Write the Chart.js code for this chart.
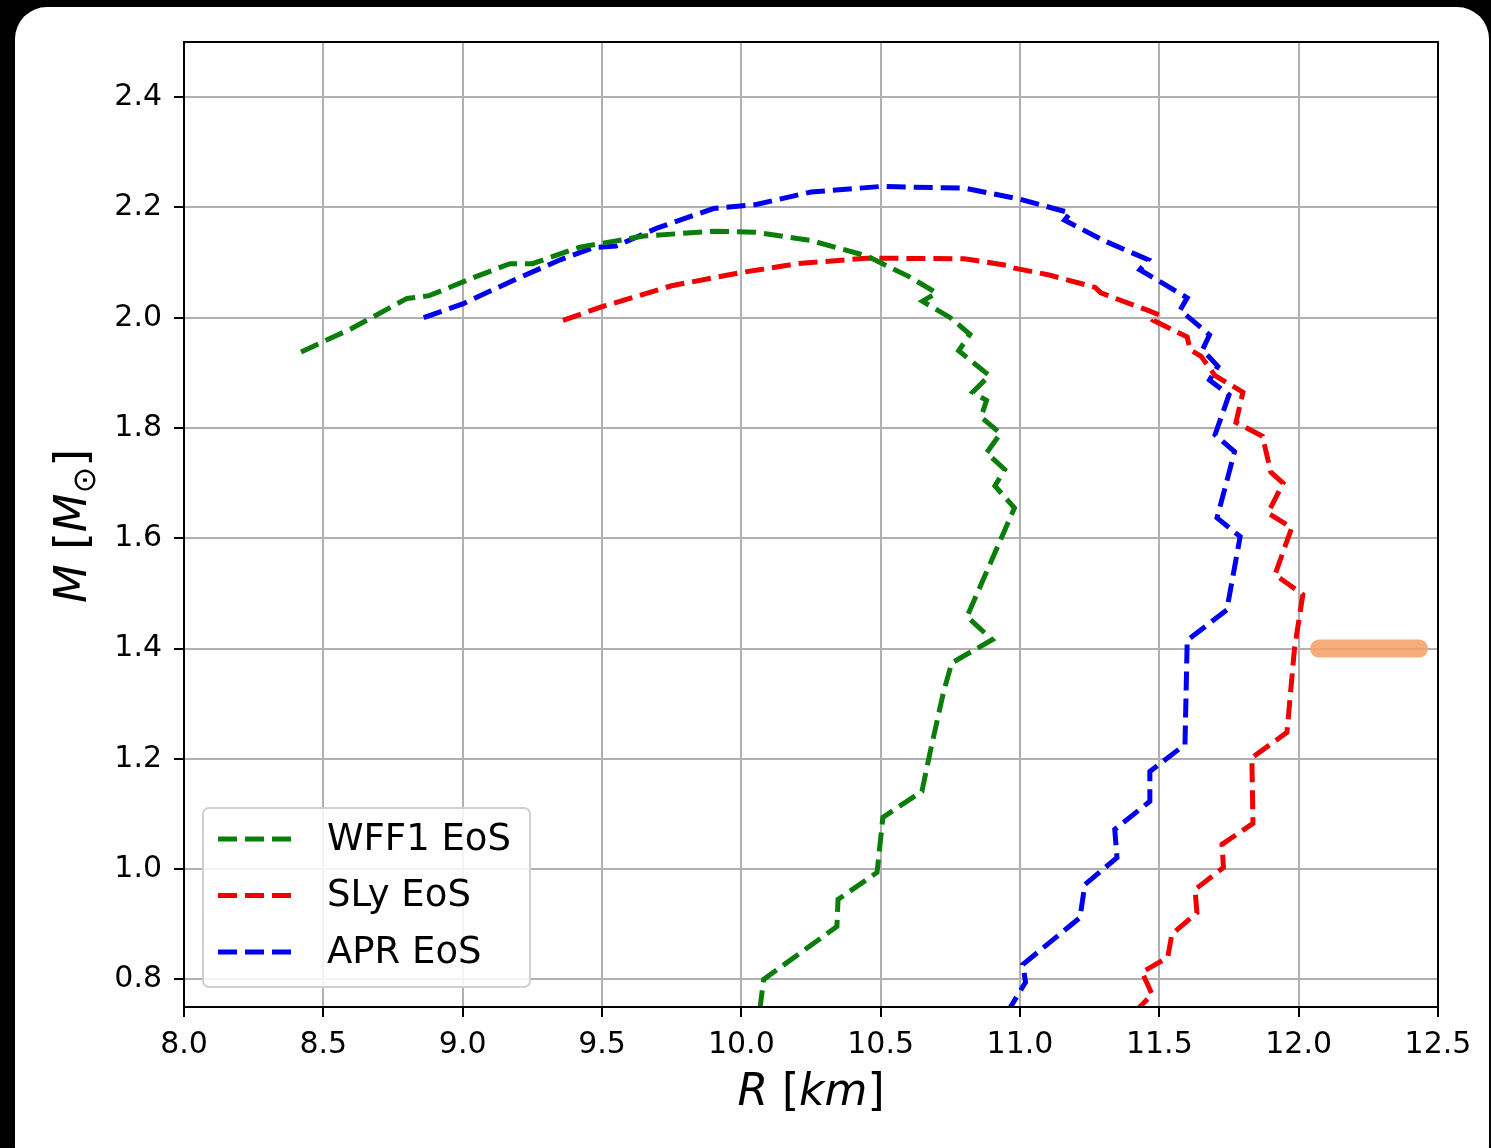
<!DOCTYPE html>
<html>
<head>
<meta charset="utf-8">
<script src="https://cdn.jsdelivr.net/npm/chart.js@4.4.1/dist/chart.umd.min.js"></script>
<style>
  html, body { margin: 0; padding: 0; background: #000; }
  body { width: 1491px; height: 1148px; position: relative; overflow: hidden; }
  #card { position: absolute; left: 15px; top: 7px; width: 1474px; height: 1170px; background: #fff; border-radius: 32px; }
  #chart { position: absolute; left: 0; top: 0; }
</style>
</head>
<body>
<div id="card"></div>
<canvas id="chart" width="1491" height="1148"></canvas>
<script>
// Mass-radius curves (R in km, M in solar masses)
const wffR = [8.42, 8.60, 8.80, 8.88, 9.05, 9.17, 9.25, 9.42, 9.65, 9.90, 10.05, 10.25, 10.45, 10.60, 10.70, 10.65, 10.75, 10.82, 10.78, 10.89, 10.83, 10.88, 10.86, 10.93, 10.88, 10.945, 10.91, 10.98, 10.81, 10.90, 10.755, 10.725, 10.677, 10.648, 10.508, 10.487, 10.347, 10.343, 10.08, 10.065];
const wffM = [1.938, 1.98, 2.035, 2.04, 2.075, 2.098, 2.098, 2.128, 2.148, 2.157, 2.155, 2.14, 2.112, 2.075, 2.045, 2.03, 2.0, 1.97, 1.94, 1.895, 1.865, 1.85, 1.82, 1.79, 1.755, 1.725, 1.695, 1.655, 1.458, 1.416, 1.374, 1.32, 1.211, 1.141, 1.094, 0.994, 0.945, 0.896, 0.80, 0.74];

const slyR = [9.36, 9.50, 9.75, 10.0, 10.2, 10.45, 10.8, 10.95, 10.98, 11.1, 11.27, 11.29, 11.45, 11.50, 11.48, 11.60, 11.61, 11.65, 11.70, 11.80, 11.775, 11.87, 11.90, 11.944, 11.89, 11.975, 11.915, 12.015, 11.985, 11.958, 11.832, 11.836, 11.725, 11.73, 11.628, 11.635, 11.545, 11.53, 11.438, 11.474, 11.42];
const slyM = [1.995, 2.02, 2.058, 2.082, 2.098, 2.108, 2.107, 2.095, 2.09, 2.078, 2.055, 2.045, 2.015, 2.005, 1.995, 1.965, 1.942, 1.93, 1.895, 1.865, 1.81, 1.785, 1.72, 1.70, 1.646, 1.619, 1.534, 1.498, 1.40, 1.248, 1.202, 1.083, 1.045, 1.003, 0.963, 0.921, 0.882, 0.84, 0.813, 0.773, 0.745];

const aprR = [8.86, 9.0, 9.2, 9.35, 9.47, 9.55, 9.7, 9.9, 10.05, 10.25, 10.5, 10.8, 11.0, 11.18, 11.16, 11.3, 11.46, 11.43, 11.6, 11.575, 11.68, 11.655, 11.71, 11.68, 11.75, 11.70, 11.77, 11.707, 11.79, 11.742, 11.6, 11.592, 11.466, 11.466, 11.34, 11.348, 11.233, 11.215, 11.01, 11.02, 10.96];
const aprM = [2.0, 2.025, 2.072, 2.105, 2.127, 2.13, 2.163, 2.198, 2.205, 2.228, 2.238, 2.235, 2.215, 2.19, 2.177, 2.14, 2.105, 2.087, 2.036, 2.014, 1.969, 1.942, 1.912, 1.887, 1.86, 1.788, 1.757, 1.637, 1.603, 1.47, 1.415, 1.226, 1.177, 1.123, 1.072, 1.021, 0.972, 0.912, 0.827, 0.795, 0.745];

// orange marker at 1.4 Msun, beyond the curves
const markR = [12.073, 12.432];
const markM = [1.4, 1.4];

const xTicks = [8.0, 8.5, 9.0, 9.5, 10.0, 10.5, 11.0, 11.5, 12.0, 12.5];
const yTicks = [0.8, 1.0, 1.2, 1.4, 1.6, 1.8, 2.0, 2.2, 2.4];

const FONT = 'DejaVu Sans';
const DASH = [19, 8];

function pts(xs, ys) {
  return xs.map((x, i) => ({ x, y: ys[i] }));
}

function curve(label, xs, ys, color) {
  return {
    label,
    data: pts(xs, ys),
    borderColor: color,
    backgroundColor: color,
    borderWidth: 5,
    borderDash: DASH,
    pointRadius: 0,
    showLine: true,
    tension: 0,
    inLegend: true,
  };
}

function drawParts(ctx, parts, cx, y, size) {
  let total = 0;
  const ws = parts.map(([t, st]) => {
    ctx.font = `${st} ${size}px "${FONT}"`;
    const w = ctx.measureText(t).width;
    total += w;
    return w;
  });
  let x = cx - total / 2;
  parts.forEach(([t, st], i) => {
    ctx.font = `${st} ${size}px "${FONT}"`;
    ctx.fillText(t, x, y);
    x += ws[i];
  });
}

// Legend box in the lower left + axis titles + top/right spines
const decor = {
  id: 'decor',
  afterDraw(chart) {
    const { ctx, chartArea: a } = chart;
    ctx.save();
    ctx.strokeStyle = '#000';
    ctx.lineWidth = 2;
    ctx.strokeRect(a.left, a.top, a.right - a.left, a.bottom - a.top);

    // legend
    const bx = 203, by = 808, bw = 327, bh = 179;
    ctx.beginPath();
    ctx.roundRect(bx, by, bw, bh, 6);
    ctx.fillStyle = 'rgba(255,255,255,0.85)';
    ctx.fill();
    ctx.strokeStyle = '#d0d0d0';
    ctx.lineWidth = 2;
    ctx.stroke();
    const items = chart.data.datasets.filter((d) => d.inLegend);
    ctx.font = `37px "${FONT}"`;
    ctx.textBaseline = 'middle';
    items.forEach((d, i) => {
      const y = 839 + i * 56.5;
      ctx.beginPath();
      ctx.setLineDash(DASH);
      ctx.strokeStyle = d.borderColor;
      ctx.lineWidth = 5;
      ctx.moveTo(218, y);
      ctx.lineTo(296, y);
      ctx.stroke();
      ctx.setLineDash([]);
      ctx.fillStyle = '#000';
      ctx.fillText(d.label, 327, y + 1);
    });

    // x title: R [km]
    ctx.fillStyle = '#000';
    ctx.textBaseline = 'alphabetic';
    drawParts(ctx, [['R', 'italic'], [' [', 'normal'], ['km', 'italic'], [']', 'normal']], 811, 1105, 44);

    // y title: M [M_sun], rotated
    ctx.translate(86, 526);
    ctx.rotate(-Math.PI / 2);
    const f = 45, fs = 32;
    const segs = [
      { t: 'M', font: `italic ${f}px "${FONT}"`, dy: 0 },
      { t: ' [', font: `${f}px "${FONT}"`, dy: 0 },
      { t: 'M', font: `italic ${f}px "${FONT}"`, dy: 0 },
      { t: '⊙', font: `${fs}px "${FONT}"`, dy: 9 },
      { t: ']', font: `${f}px "${FONT}"`, dy: 0 },
    ];
    let total = 0;
    segs.forEach((s) => { ctx.font = s.font; s.w = ctx.measureText(s.t).width; total += s.w; });
    let x = -total / 2;
    segs.forEach((s) => { ctx.font = s.font; ctx.fillText(s.t, x, s.dy); x += s.w; });
    ctx.restore();
  },
};

const axisCommon = {
  type: 'linear',
  grid: { color: '#b0b0b0', lineWidth: 2, tickColor: '#000', tickLength: 10, tickWidth: 2 },
  border: { color: '#000', width: 2 },
  ticks: { color: '#000', font: { family: FONT, size: 30 }, callback: (v) => v.toFixed(1) },
};

new Chart(document.getElementById('chart'), {
  type: 'scatter',
  data: {
    datasets: [
      curve('WFF1 EoS', wffR, wffM, '#0a7d0a'),
      curve('SLy EoS', slyR, slyM, '#f00000'),
      curve('APR EoS', aprR, aprM, '#0000f0'),
      {
        label: 'marker',
        data: pts(markR, markM),
        borderColor: 'rgba(245,160,105,0.88)',
        borderWidth: 18,
        borderCapStyle: 'round',
        pointRadius: 0,
        showLine: true,
      },
    ],
  },
  options: {
    responsive: false,
    animation: false,
    events: [],
    layout: { padding: { left: 0, top: 42, right: 53, bottom: 0 } },
    scales: {
      x: {
        ...axisCommon,
        min: 8.0,
        max: 12.5,
        afterBuildTicks: (s) => { s.ticks = xTicks.map((value) => ({ value })); },
        afterFit: (s) => { s.height = 141; },
        ticks: { ...axisCommon.ticks, padding: 10, maxRotation: 0, autoSkip: false },
      },
      y: {
        ...axisCommon,
        min: 0.75,
        max: 2.5,
        afterBuildTicks: (s) => { s.ticks = yTicks.map((value) => ({ value })); },
        afterFit: (s) => { s.width = 184; },
        ticks: { ...axisCommon.ticks, padding: 12, autoSkip: false },
      },
    },
    plugins: {
      legend: { display: false },
      tooltip: { enabled: false },
    },
  },
  plugins: [decor],
});
</script>
</body>
</html>
